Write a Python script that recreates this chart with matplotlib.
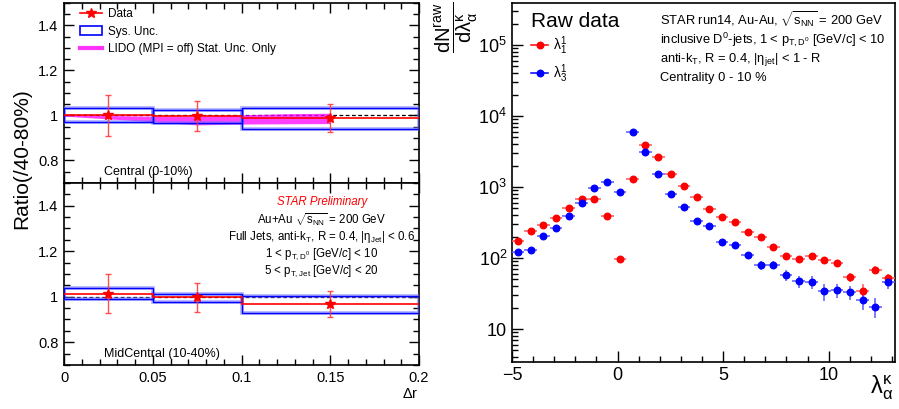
import numpy as np
import matplotlib
matplotlib.use("Agg")
import matplotlib.pyplot as plt
from matplotlib.patches import Rectangle, Patch
from matplotlib.lines import Line2D
from matplotlib.ticker import MultipleLocator, LogLocator, FixedLocator, NullFormatter

plt.rcParams['font.family'] = ['Liberation Sans', 'DejaVu Sans']
plt.rcParams['mathtext.fontset'] = 'custom'
plt.rcParams['mathtext.rm'] = 'Liberation Sans'
plt.rcParams['mathtext.it'] = 'Liberation Sans:italic'
plt.rcParams['mathtext.bf'] = 'Liberation Sans:bold'
plt.rcParams['mathtext.sf'] = 'Liberation Sans'

# ---------------- Left panels data ----------------
dr_edges = [0.0, 0.05, 0.1, 0.2]
dr_centers = [0.025, 0.075, 0.15]

central_ratio = [1.000, 0.997, 0.989]
central_stat = [0.090, 0.068, 0.062]
central_sys_lo = [0.970, 0.967, 0.942]
central_sys_hi = [1.032, 1.025, 1.034]

mid_ratio = [1.014, 0.997, 0.968]
mid_stat = [0.087, 0.065, 0.058]
mid_sys_lo = [0.990, 0.975, 0.930]
mid_sys_hi = [1.037, 1.013, 1.005]

lido_x = [0.0, 0.025, 0.05, 0.075, 0.1, 0.125, 0.15]
lido_lo = [0.997, 0.985, 0.972, 0.958, 0.962, 0.963, 0.964]
lido_hi = [1.003, 1.000, 0.997, 0.995, 1.003, 1.008, 1.010]

# ---------------- Right panel data ----------------
lam = [-4.73, -4.12, -3.52, -2.91, -2.31, -1.70, -1.10, -0.49, 0.11, 0.72,
       1.32, 1.93, 2.53, 3.14, 3.74, 4.35, 4.95, 5.56, 6.16, 6.77,
       7.37, 7.98, 8.58, 9.19, 9.79, 10.40, 11.00, 11.61, 12.21, 12.82]
lam1_1 = [173, 243, 295, 366, 506, 670, 683, 391, 98, 1310,
          3860, 2640, 1548, 1024, 730, 494, 374, 318, 232, 200,
          141, 107, 96, 108, 93, 86, 54, 34.6, 68, 52]
lam1_1_err = [13, 15, 17, 19, 22, 26, 26, 20, 10, 36,
              60, 50, 39, 32, 27, 22, 19, 18, 15, 14,
              12, 10, 10, 10, 10, 9, 8, 8, 8, 7]
lam3_1 = [120, 131, 206, 262, 394, 601, 955, 1164, 841, 5890,
          3140, 1548, 794, 522, 335, 282, 170, 151, 110, 79,
          81, 57, 47, 46, 34, 35, 33.5, 26, 20.6, 46]
lam3_1_err = [12, 12, 15, 16, 20, 25, 30, 33, 29, 75,
              55, 40, 28, 23, 18, 17, 13, 13, 11, 12,
              11, 10, 9, 9, 9, 8, 7.5, 7.5, 6.5, 9]
half_bin = 0.30

RED = (1, 0, 0)
BLUE = (0, 0, 1)
MAG = (1, 0, 1)

fig = plt.figure(figsize=(8.99, 4.09), dpi=100)

ax_top = fig.add_axes([0.0712, 0.5526, 0.3949, 0.4401])
ax_bot = fig.add_axes([0.0712, 0.1076, 0.3949, 0.4450])
ax_r = fig.add_axes([0.5695, 0.1142, 0.4256, 0.8785])


def style_ratio_axis(ax, show_xlabels):
    ax.set_xlim(0, 0.2)
    ax.set_ylim(0.7, 1.5)
    ax.xaxis.set_major_locator(MultipleLocator(0.05))
    ax.xaxis.set_minor_locator(MultipleLocator(0.01))
    ax.yaxis.set_major_locator(FixedLocator([0.8, 1.0, 1.2, 1.4]))
    ax.yaxis.set_minor_locator(MultipleLocator(0.05))
    ax.tick_params(which='both', direction='in', top=True, right=True,
                   labelsize=10.5, width=1.0, pad=4)
    ax.tick_params(which='major', length=7.5)
    ax.tick_params(which='minor', length=4)
    ax.set_yticklabels(['0.8', '1', '1.2', '1.4'])
    if show_xlabels:
        ax.set_xticks([0, 0.05, 0.1, 0.15, 0.2])
        ax.set_xticklabels(['0', '0.05', '0.1', '0.15', '0.2'])
    else:
        ax.tick_params(labelbottom=False)
    for s in ax.spines.values():
        s.set_linewidth(1.2)


def draw_ratio(ax, ratio, stat, lo, hi):
    ax.axhline(1.0, color='black', lw=0.9, ls=(0, (3, 2)), zorder=2)
    for i in range(3):
        x0, x1 = dr_edges[i], dr_edges[i + 1]
        ax.add_patch(Rectangle((x0, lo[i]), x1 - x0, hi[i] - lo[i], fill=False,
                               edgecolor=(0.45, 0.45, 1.0), lw=2.6, alpha=0.6, zorder=3))
        ax.add_patch(Rectangle((x0, lo[i]), x1 - x0, hi[i] - lo[i], fill=False,
                               edgecolor=BLUE, lw=1.0, zorder=4))
    ax.stairs(ratio, dr_edges, baseline=None, color=RED, lw=1.2, zorder=5)
    ax.errorbar(dr_centers, ratio, yerr=stat, fmt='none', ecolor=(1, 0.2, 0.2),
                elinewidth=1.0, capsize=2, capthick=1.0, alpha=0.85, zorder=6)
    ax.plot(dr_centers, ratio, ls='none', marker='*', ms=7, color=RED, zorder=7)


style_ratio_axis(ax_top, False)
style_ratio_axis(ax_bot, True)

ax_top.fill_between(lido_x, lido_lo, lido_hi, color=MAG, alpha=0.75, lw=0, zorder=2.5)
draw_ratio(ax_top, central_ratio, central_stat, central_sys_lo, central_sys_hi)
draw_ratio(ax_bot, mid_ratio, mid_stat, mid_sys_lo, mid_sys_hi)

h_data = Line2D([], [], color=RED, lw=1.2, marker='*', ms=7)
h_sys = Patch(facecolor='none', edgecolor=BLUE, lw=1.2)
h_lido = Line2D([], [], color=MAG, lw=3, alpha=0.8)
ax_top.legend([h_data, h_sys, h_lido],
              ['Data', 'Sys. Unc.', 'LIDO (MPI = off) Stat. Unc. Only'],
              loc='upper left', bbox_to_anchor=(0.045, 0.972), frameon=False,
              fontsize=8.5, handlelength=1.9, handletextpad=0.5, labelspacing=0.48,
              borderpad=0, borderaxespad=0)

ax_top.text(0.113, 0.044, 'Central (0-10%)', transform=ax_top.transAxes,
            fontsize=9, va='baseline', ha='left')
ax_bot.text(0.113, 0.046, 'MidCentral (10-40%)', transform=ax_bot.transAxes,
            fontsize=9, va='baseline', ha='left')

tx = 0.726
ax_bot.text(tx, 0.896, 'STAR Preliminary', transform=ax_bot.transAxes, color=RED,
            style='italic', fontsize=8.3, ha='center', va='center')
ax_bot.text(tx, 0.797, r'Au+Au $\sqrt{\mathrm{s_{NN}}}$ = 200 GeV', transform=ax_bot.transAxes,
            fontsize=8.3, ha='center', va='center')
ax_bot.text(tx, 0.705, r'Full Jets, anti-k$_{\mathrm{T}}$, R = 0.4, |$\mathrm{\eta_{Jet}}$| < 0.6',
            transform=ax_bot.transAxes, fontsize=8.3, ha='center', va='center')
ax_bot.text(tx, 0.610, r'1 < p$_{\mathrm{T,D^{0}}}$ [GeV/$c$] < 10', transform=ax_bot.transAxes,
            fontsize=8.3, ha='center', va='center')
ax_bot.text(tx, 0.513, r'5 < p$_{\mathrm{T,Jet}}$ [GeV/$c$] < 20', transform=ax_bot.transAxes,
            fontsize=8.3, ha='center', va='center')

fig.text(0.024, 0.611, 'Ratio(/40-80%)', rotation=90, fontsize=15, ha='center', va='center')
fig.text(410 / 899, 1 - 394 / 409, r'$\mathrm{\Delta r}$', fontsize=10.5, ha='center', va='center')

# ---------------- Right panel ----------------
ax_r.set_yscale('log')
ax_r.set_xlim(-5, 13.12)
ax_r.set_ylim(3.4, 3.9e5)

ax_r.errorbar(lam, lam1_1, xerr=half_bin, yerr=lam1_1_err, fmt='none',
              ecolor=(1, 0.35, 0.35), elinewidth=1.1, zorder=3)
ax_r.plot(lam, lam1_1, ls='none', marker='o', ms=4.7, color=RED, zorder=4)
ax_r.errorbar(lam, lam3_1, xerr=half_bin, yerr=lam3_1_err, fmt='none',
              ecolor=(0.35, 0.35, 1), elinewidth=1.1, zorder=3)
ax_r.plot(lam, lam3_1, ls='none', marker='o', ms=4.7, color=BLUE, zorder=4)

ax_r.xaxis.set_major_locator(FixedLocator([-5, 0, 5, 10]))
ax_r.xaxis.set_minor_locator(MultipleLocator(1))
ax_r.set_xticklabels(['\u22125', '0', '5', '10'])
ax_r.yaxis.set_major_locator(FixedLocator([10, 100, 1000, 1e4, 1e5]))
ax_r.yaxis.set_minor_locator(LogLocator(base=10, subs=np.arange(2, 10)))
ax_r.yaxis.set_minor_formatter(NullFormatter())
ax_r.set_yticklabels(['10', r'$10^{2}$', r'$10^{3}$', r'$10^{4}$', r'$10^{5}$'])
ax_r.tick_params(which='both', direction='in', top=False, right=False,
                 labelsize=13, width=1.0)
ax_r.tick_params(which='major', length=8)
ax_r.tick_params(which='minor', length=4)
for s in ax_r.spines.values():
    s.set_linewidth(1.2)

hr = Line2D([], [], color=RED, lw=1.1, marker='o', ms=4.7)
hb = Line2D([], [], color=BLUE, lw=1.1, marker='o', ms=4.7)
ax_r.legend([hr, hb], [r'$\mathrm{\lambda_{1}^{1}}$', r'$\mathrm{\lambda_{3}^{1}}$'],
            loc='upper left', bbox_to_anchor=(0.051, 0.912), frameon=False,
            fontsize=10, handlelength=1.2, handletextpad=0.35, labelspacing=0.35,
            borderpad=0, borderaxespad=0)

ax_r.text(0.051, 0.934, 'Raw data', transform=ax_r.transAxes, fontsize=15,
          ha='left', va='baseline')
bx = 0.388
fs_b = 9.3
ax_r.text(bx, 0.936, r'STAR run14, Au-Au, $\sqrt{\mathrm{s_{NN}}}$ = 200 GeV',
          transform=ax_r.transAxes, fontsize=fs_b, va='baseline')
ax_r.text(bx, 0.886, r'inclusive D$^{0}$-jets, 1 < p$_{\mathrm{T,D^{0}}}$ [GeV/c] < 10',
          transform=ax_r.transAxes, fontsize=fs_b, va='baseline')
ax_r.text(bx, 0.837, r'anti-k$_{\mathrm{T}}$, R = 0.4, |$\mathrm{\eta_{jet}}$| < 1 - R',
          transform=ax_r.transAxes, fontsize=fs_b, va='baseline')
ax_r.text(bx, 0.784, 'Centrality 0 - 10 %', transform=ax_r.transAxes, fontsize=fs_b,
          va='baseline')

fig.text(456 / 899, 1 - 2 / 409, r'$\mathrm{\dfrac{dN^{raw}}{d\lambda_{\alpha}^{\kappa}}}$',
         rotation=90, fontsize=14.5, ha='center', va='top')
fig.text(882 / 899, 1 - 388 / 409, r'$\mathrm{\lambda_{\alpha}^{\kappa}}$', fontsize=17,
         ha='center', va='center')

fig.savefig('out.png', dpi=100)
